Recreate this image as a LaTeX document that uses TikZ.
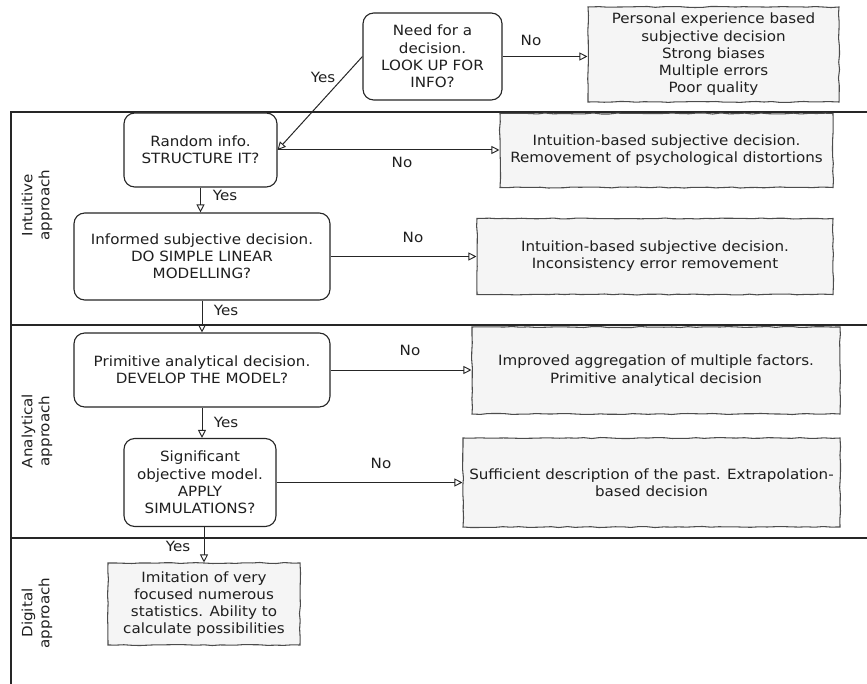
\documentclass[tikz,border=0pt]{standalone}
\usepackage{fontspec}
\setmainfont[FakeStretch=1.07]{DejaVu Sans}
\usetikzlibrary{arrows.meta,decorations.pathmorphing}
\tikzset{
  basefont/.style={font=\fontsize{10.6}{12.9}\selectfont, text=black!88},
  decbox/.style={draw=black!85, line width=0.85pt, rounded corners=8pt, align=center, inner sep=0pt, basefont, fill=white},
  outbox/.style={draw=black!70, line width=0.8pt, fill=gray!8, align=center, inner sep=0pt, basefont,
     decorate, decoration={random steps, segment length=6pt, amplitude=0.4pt}},
  conn/.style={draw=black!85, line width=0.75pt, -{Triangle[open, length=6pt, width=6pt, line width=0.7pt]}},
  lbl/.style={basefont, inner sep=0pt},
  lane/.style={draw=black!85, line width=0.8pt},
  lanelbl/.style={basefont, rotate=90, align=center, inner sep=0pt}
}
\begin{document}
\pgfmathsetseed{7}
\begin{tikzpicture}[x=0.75pt,y=-0.75pt]
\path[use as bounding box] (0,0) rectangle (867,684);

% swimlanes
\coordinate (tl) at (11,112);
\coordinate (tr) at (867,112);
\coordinate (l1) at (11,325);
\coordinate (r1) at (867,325);
\coordinate (l2) at (11,538);
\coordinate (r2) at (867,538);
\coordinate (bl) at (11,684);
\draw[lane] (tr) -- (tl) -- (bl);
\draw[lane] (l1) -- (r1);
\draw[lane] (l2) -- (r2);

\node[lanelbl] (lane1) at (37,205) {Intuitive\\approach};
\node[lanelbl] (lane2) at (37,431) {Analytical\\approach};
\node[lanelbl] (lane3) at (37,613) {Digital\\approach};

% nodes
\node[decbox, minimum width=104.25pt, minimum height=65.25pt] (need) at (432.5,56.5)
  {Need for a\\decision.\\LOOK UP FOR\\INFO?};
\node[outbox, minimum width=188.25pt, minimum height=71.25pt] (pers) at (713.5,54.5)
  {Personal experience based\\subjective decision\\Strong biases\\Multiple errors\\Poor quality};

\node[decbox, minimum width=114.75pt, minimum height=55.5pt] (rand) at (200.5,150)
  {Random info.\\STRUCTURE IT?};
\node[outbox, minimum width=249.75pt, minimum height=55.5pt] (b1) at (666.5,150.5)
  {Intuition-based subjective decision.\\Removement of psychological distortions};

\node[decbox, minimum width=192pt, minimum height=65.25pt] (inf) at (202,256.5)
  {Informed subjective decision.\\DO SIMPLE LINEAR\\MODELLING?};
\node[outbox, minimum width=267pt, minimum height=57pt] (b2) at (655,256.5)
  {Intuition-based subjective decision.\\Inconsistency error removement};

\node[decbox, minimum width=192pt, minimum height=55.5pt] (prim) at (202,370)
  {Primitive analytical decision.\\DEVELOP THE MODEL?};
\node[outbox, minimum width=276pt, minimum height=65.25pt] (b3) at (656,370.5)
  {Improved aggregation of multiple factors.\\Primitive analytical decision};

\node[decbox, minimum width=114pt, minimum height=66pt] (sig) at (200,482.5)
  {Significant\\objective model.\\APPLY\\SIMULATIONS?};
\node[outbox, minimum width=282.75pt, minimum height=66.75pt] (b4) at (651.5,482.5)
  {Sufficient description of the past. Extrapolation-\\based decision};

\node[outbox, minimum width=144pt, minimum height=61.5pt] (img) at (204,604)
  {Imitation of very\\focused numerous\\statistics. Ability to\\calculate possibilities};

% connectors
\draw[conn] (need.west) -- (rand.east);
\draw[conn] (need.east) -- (need.east -| pers.west);
\draw[conn] (rand.east) -- (rand.east -| b1.west);
\draw[conn] (rand.south) -- (rand.south |- inf.north);
\draw[conn] (inf.east) -- (inf.east -| b2.west);
\draw[conn] (inf.south) -- (inf.south |- prim.north);
\draw[conn] (prim.east) -- (prim.east -| b3.west);
\draw[conn] (prim.south) -- (prim.south |- sig.north);
\draw[conn] (sig.east) -- (sig.east -| b4.west);
\draw[conn] (img.north |- sig.south) -- (img.north);

% labels
\node[lbl] (no0) at (531,40) {No};
\node[lbl] (yes0) at (323,77) {Yes};
\node[lbl] (no1) at (402,162) {No};
\node[lbl] (yes1) at (225,195) {Yes};
\node[lbl] (no2) at (413,237) {No};
\node[lbl] (yes2) at (226,310) {Yes};
\node[lbl] (no3) at (410,350) {No};
\node[lbl] (yes3) at (226,422) {Yes};
\node[lbl] (no4) at (381,463) {No};
\node[lbl] (yes4) at (178,546) {Yes};
\end{tikzpicture}
\end{document}
